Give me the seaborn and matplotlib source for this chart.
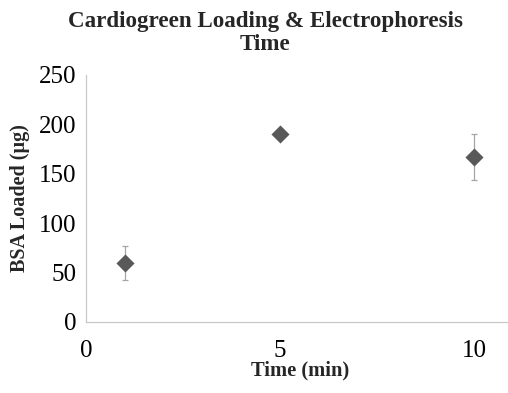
import matplotlib
matplotlib.use("Agg")
import matplotlib.pyplot as plt
import seaborn as sns
import pandas as pd

# data
time_min   = [1, 5, 10]
bsa_loaded = [60, 190, 167]
bsa_err    = [17, 3, 23]

TITLE  = "Cardiogreen Loading & Electrophoresis\nTime"
XLABEL = "Time (min)"
YLABEL = "BSA Loaded (\u00b5g)"

sns.set_style("white")
plt.rcParams["font.family"] = ["Liberation Serif", "DejaVu Serif"]

df = pd.DataFrame({"time": time_min, "bsa": bsa_loaded, "err": bsa_err})

fig = plt.figure(figsize=(5.08, 3.93), dpi=100)
ax = fig.add_axes([0.1693, 0.1807, 0.8307, 0.6285])

ax.errorbar(df["time"], df["bsa"], yerr=df["err"], fmt="none",
            ecolor="#a6a6a6", elinewidth=0.9, capsize=2, capthick=0.9, zorder=2)
sns.scatterplot(data=df, x="time", y="bsa", marker="D", s=85,
                color="#595959", edgecolor="#595959", linewidth=0, ax=ax, zorder=3)

ax.set_xlim(0, 10.88)
ax.set_ylim(0, 250)
ax.set_xticks([0, 5, 10])
ax.set_yticks([0, 50, 100, 150, 200, 250])

for s in ["top", "right"]:
    ax.spines[s].set_visible(False)
for s in ["left", "bottom"]:
    ax.spines[s].set_color("#c8c8c8")
    ax.spines[s].set_linewidth(0.9)

ax.tick_params(axis="both", direction="out", length=4, width=0.8,
               color="#c8c8c8", labelsize=18, labelcolor="black")
ax.tick_params(axis="x", pad=9)
ax.tick_params(axis="y", pad=3)

ax.set_xlabel("")
ax.set_ylabel("")
fig.text(300 / 508, 1 - 370 / 393, XLABEL, ha="center", va="center",
         fontsize=14.8, fontweight="bold")
fig.text(20 / 508, 1 - 198 / 393, YLABEL, ha="center", va="center",
         rotation=90, fontsize=14.5, fontweight="bold")
fig.text(265 / 508, 1 - 33 / 393, TITLE, ha="center", va="center",
         fontsize=16.6, fontweight="bold", linespacing=1.1)

fig.savefig("out.png", dpi=100)
